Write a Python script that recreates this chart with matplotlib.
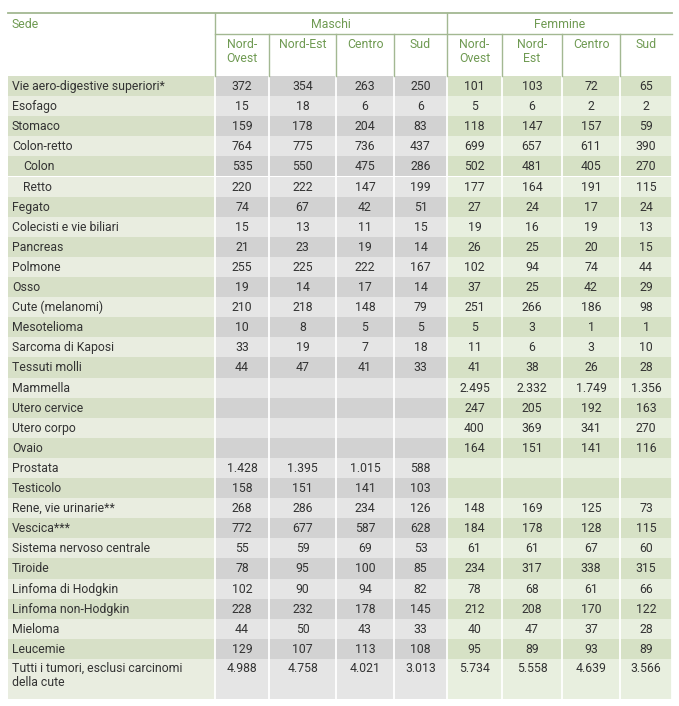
import matplotlib
matplotlib.use("Agg")
import matplotlib.pyplot as plt
from matplotlib.patches import Rectangle

plt.rcParams['font.family'] = ['Roboto', 'DejaVu Sans']

sedi = ["Vie aero-digestive superiori*", "Esofago", "Stomaco", "Colon-retto", "Colon", "Retto",
        "Fegato", "Colecisti e vie biliari", "Pancreas", "Polmone", "Osso", "Cute (melanomi)",
        "Mesotelioma", "Sarcoma di Kaposi", "Tessuti molli", "Mammella", "Utero cervice",
        "Utero corpo", "Ovaio", "Prostata", "Testicolo", "Rene, vie urinarie**", "Vescica***",
        "Sistema nervoso centrale", "Tiroide", "Linfoma di Hodgkin", "Linfoma non-Hodgkin",
        "Mieloma", "Leucemie", "Tutti i tumori, esclusi carcinomi\ndella cute"]
indented = ["Colon", "Retto"]

groups = ["Maschi", "Femmine"]
sub_m = ["Nord-\nOvest", "Nord-Est", "Centro", "Sud"]
sub_f = ["Nord-\nOvest", "Nord-\nEst", "Centro", "Sud"]

maschi_no = [372, 15, 159, 764, 535, 220, 74, 15, 21, 255, 19, 210, 10, 33, 44, None, None, None, None, 1428, 158, 268, 772, 55, 78, 102, 228, 44, 129, 4988]
maschi_ne = [354, 18, 178, 775, 550, 222, 67, 13, 23, 225, 14, 218, 8, 19, 47, None, None, None, None, 1395, 151, 286, 677, 59, 95, 90, 232, 50, 107, 4758]
maschi_c = [263, 6, 204, 736, 475, 147, 42, 11, 19, 222, 17, 148, 5, 7, 41, None, None, None, None, 1015, 141, 234, 587, 69, 100, 94, 178, 43, 113, 4021]
maschi_s = [250, 6, 83, 437, 286, 199, 51, 15, 14, 167, 14, 79, 5, 18, 33, None, None, None, None, 588, 103, 126, 628, 53, 85, 82, 145, 33, 108, 3013]
femm_no = [101, 5, 118, 699, 502, 177, 27, 19, 26, 102, 37, 251, 5, 11, 41, 2495, 247, 400, 164, None, None, 148, 184, 61, 234, 78, 212, 40, 95, 5734]
femm_ne = [103, 6, 147, 657, 481, 164, 24, 16, 25, 94, 25, 266, 3, 6, 38, 2332, 205, 369, 151, None, None, 169, 178, 61, 317, 68, 208, 47, 89, 5558]
femm_c = [72, 2, 157, 611, 405, 191, 17, 19, 20, 74, 42, 186, 1, 3, 26, 1749, 192, 341, 141, None, None, 125, 128, 67, 338, 61, 170, 37, 93, 4639]
femm_s = [65, 2, 59, 390, 270, 115, 24, 13, 15, 44, 29, 98, 1, 10, 28, 1356, 163, 270, 116, None, None, 73, 115, 60, 315, 66, 122, 28, 89, 3566]

columns = [maschi_no, maschi_ne, maschi_c, maschi_s, femm_no, femm_ne, femm_c, femm_s]

def fmt(v):
    if v is None:
        return ""
    return f"{v:,}".replace(",", ".")

W, H = 679, 706
fig = plt.figure(figsize=(W / 100, H / 100), dpi=100)
ax = fig.add_axes([0, 0, 1, 1])
ax.set_xlim(0, W)
ax.set_ylim(H, 0)
ax.axis("off")

x_left, x_right = 8, 672
col_edges = [215, 269, 336, 394, 447, 502, 562, 620, 672]
y_top, y_grp, y_data = 13, 34, 76
row_h = 20.1
last_h = 40

hdr_color = "#6f9a52"
line_color = "#a3b892"
text_color = "#333333"
lab_cols = ["#d7e0c7", "#e9ede0"]
m_cols = ["#d2d2d2", "#e5e5e5"]
f_cols = ["#d6e1c5", "#e8efdf"]

fs = 8.8
n = len(sedi)
y = y_data
for i in range(n):
    h = last_h if i == n - 1 else row_h
    k = i % 2
    ax.add_patch(Rectangle((x_left, y), col_edges[0] - x_left, h, facecolor=lab_cols[k], edgecolor="none"))
    for j in range(8):
        c = m_cols[k] if j < 4 else f_cols[k]
        ax.add_patch(Rectangle((col_edges[j], y), col_edges[j + 1] - col_edges[j], h, facecolor=c, edgecolor="none"))
    lx = 23 if sedi[i] in indented else 12
    if i == n - 1:
        ax.text(lx, y + 3, sedi[i], fontsize=fs, color=text_color, va="top", ha="left", linespacing=1.15)
        for j in range(8):
            ax.text((col_edges[j] + col_edges[j + 1]) / 2, y + 3, fmt(columns[j][i]), fontsize=fs,
                    color=text_color, va="top", ha="center")
    else:
        ax.text(lx, y + h / 2 + 0.5, sedi[i], fontsize=fs, color=text_color, va="center", ha="left")
        for j in range(8):
            ax.text((col_edges[j] + col_edges[j + 1]) / 2, y + h / 2 + 0.5, fmt(columns[j][i]), fontsize=fs,
                    color=text_color, va="center", ha="center")
    y += h
y_bottom = y

for xe in col_edges:
    ax.plot([xe, xe], [y_data, y_bottom], color="white", lw=1.3)

ax.plot([x_left, x_right], [y_top, y_top], color=line_color, lw=1.3)
ax.plot([col_edges[0], x_right], [y_grp, y_grp], color=line_color, lw=1.0)
for xe in [col_edges[0], col_edges[4]]:
    ax.plot([xe, xe], [y_top, y_data], color=line_color, lw=1.0)
for xe in col_edges[1:4] + col_edges[5:8]:
    ax.plot([xe, xe], [y_grp, y_data], color=line_color, lw=1.0)

ax.text(12, 24, "Sede", fontsize=fs, color=hdr_color, va="center", ha="left")
ax.text((col_edges[0] + col_edges[4]) / 2, 24, groups[0], fontsize=fs, color=hdr_color, va="center", ha="center")
ax.text((col_edges[4] + col_edges[8]) / 2, 24, groups[1], fontsize=fs, color=hdr_color, va="center", ha="center")
subs = sub_m + sub_f
for j, s in enumerate(subs):
    ax.text((col_edges[j] + col_edges[j + 1]) / 2, 38, s, fontsize=fs, color=hdr_color,
            va="top", ha="center", linespacing=1.1)

fig.savefig("out.png", dpi=100)
